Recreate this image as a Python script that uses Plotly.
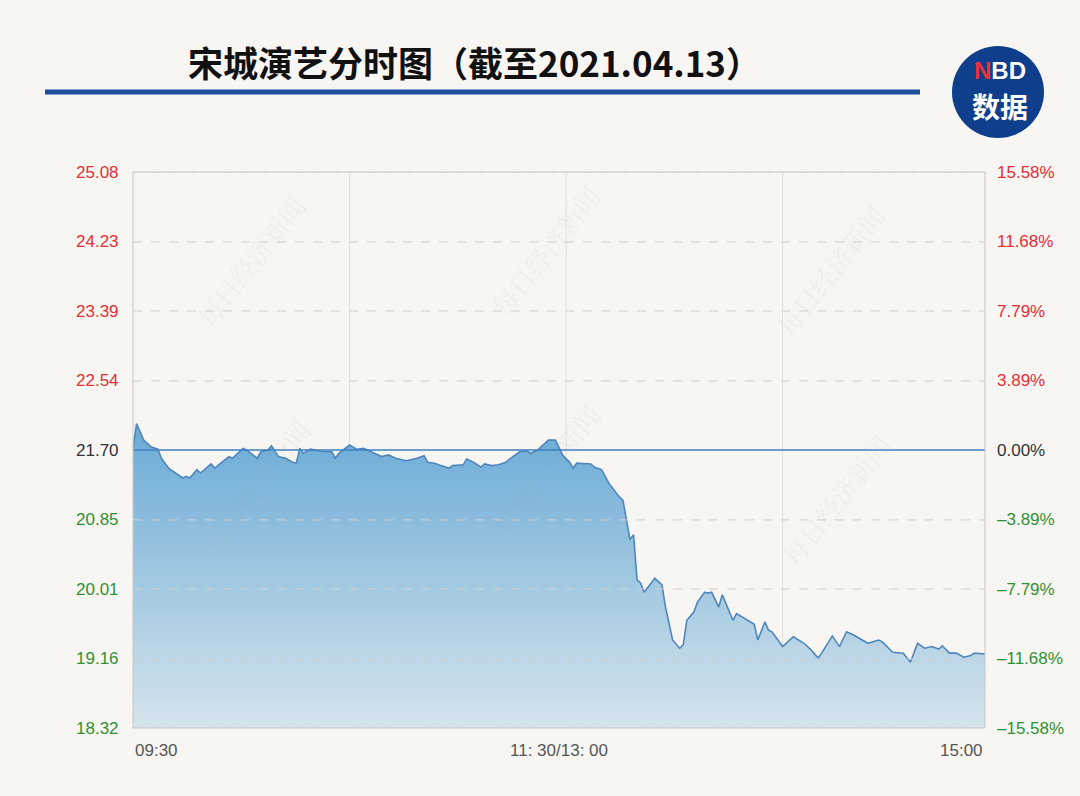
import plotly.graph_objects as go

# ---------------- data ----------------
minutes = [0, 1, 3, 5, 7, 8, 10, 14, 15, 16, 18, 19, 22, 23, 27, 28, 31, 32, 35, 36,
           38, 39, 41, 43, 45, 46, 47, 48, 50, 52, 54, 56, 57, 58, 61, 63, 65, 66, 68, 70,
           72, 74, 77, 80, 82, 83, 85, 86, 89, 90, 93, 94, 96, 98, 99, 101, 103, 105, 107, 109,
           111, 112, 114, 117, 119, 121, 123, 124, 125, 129, 130, 132, 134, 137, 138, 139, 140, 141, 142, 143,
           144, 147, 149, 150, 152, 154, 155, 156, 158, 159, 161, 162, 163, 165, 166, 169, 170, 175, 176, 178,
           179, 180, 183, 186, 189, 191, 193, 194, 197, 199, 201, 203, 207, 210, 211, 214, 217, 219, 221, 223,
           225, 227, 228, 230, 232, 234, 236, 237, 239, 240]
prices = [21.71, 22.02, 21.82, 21.74, 21.71, 21.60, 21.48, 21.36, 21.38, 21.36, 21.46, 21.42, 21.53, 21.48, 21.62, 21.60, 21.72, 21.70, 21.60, 21.68,
          21.70, 21.75, 21.62, 21.60, 21.55, 21.54, 21.72, 21.66, 21.71, 21.69, 21.68, 21.68, 21.60, 21.66, 21.76, 21.71, 21.72, 21.70, 21.66, 21.62,
          21.64, 21.60, 21.57, 21.60, 21.63, 21.55, 21.54, 21.52, 21.48, 21.51, 21.52, 21.59, 21.55, 21.49, 21.53, 21.51, 21.52, 21.55, 21.62, 21.68,
          21.69, 21.66, 21.70, 21.82, 21.82, 21.64, 21.55, 21.48, 21.54, 21.53, 21.49, 21.46, 21.30, 21.13, 21.09, 20.85, 20.61, 20.67, 20.12, 20.08,
          19.97, 20.14, 20.06, 19.79, 19.39, 19.29, 19.33, 19.63, 19.73, 19.85, 19.97, 19.96, 19.97, 19.79, 19.94, 19.63, 19.71, 19.58, 19.39, 19.61,
          19.51, 19.49, 19.31, 19.43, 19.35, 19.27, 19.17, 19.23, 19.44, 19.31, 19.49, 19.45, 19.35, 19.39, 19.37, 19.24, 19.23, 19.12, 19.35, 19.29,
          19.31, 19.28, 19.32, 19.23, 19.23, 19.18, 19.20, 19.23, 19.22, 19.22]

prev_close = 21.70
price_ticks = [25.08, 24.23, 23.39, 22.54, 21.70, 20.85, 20.01, 19.16, 18.32]
pct_ticks = ["15.58%", "11.68%", "7.79%", "3.89%", "0.00%", "–3.89%", "–7.79%", "–11.68%", "–15.58%"]
time_ticks = [0, 120, 240]
time_labels = ["09:30", "11: 30/13: 00", "15:00"]

title = "宋城演艺分时图（截至2021.04.13）"

# ---------------- geometry helpers ----------------
W, H = 1080, 796
L, R, T, B = 133, 985, 172, 728
def px(x):  # pixel -> paper x
    return (x - L) / (R - L)
def py(y):  # pixel -> paper y
    return (B - y) / (B - T)

RED, GREEN, DARK = "#e62e36", "#2f9134", "#333333"
BG = "#f8f6f2"
FONT = "Liberation Sans, Arial, sans-serif"

fig = go.Figure()
fig.add_trace(go.Scatter(
    x=minutes, y=prices, mode="lines",
    line=dict(color="#4f86bd", width=1.6),
    fill="tozeroy",
    fillgradient=dict(type="vertical",
                      colorscale=[[0, "#d5e4ec"], [1, "#6aaad6"]],
                      start=18.32, stop=22.02),
    hoverinfo="skip", showlegend=False))

shapes = []
# horizontal dashed gridlines
for v in price_ticks:
    if v == prev_close:
        continue
    shapes.append(dict(type="line", xref="paper", yref="y", x0=0, x1=1, y0=v, y1=v,
                       line=dict(color="#cfcfcf", width=1, dash="dash"), layer="above"))
# vertical gridlines
for m in [61, 122, 183]:
    shapes.append(dict(type="line", xref="x", yref="paper", x0=m, x1=m, y0=0, y1=1,
                       line=dict(color="#e2e0dc", width=1), layer="below"))
# baseline (previous close)
shapes.append(dict(type="line", xref="paper", yref="y", x0=0, x1=1, y0=prev_close, y1=prev_close,
                   line=dict(color="#3f7fc3", width=1.3), layer="above"))
# plot frame
shapes.append(dict(type="rect", xref="paper", yref="paper", x0=0, x1=1, y0=0, y1=1,
                   line=dict(color="#c6c6c6", width=1), layer="above"))
# title underline bar
shapes.append(dict(type="rect", xref="paper", yref="paper",
                   x0=px(45), x1=px(920), y0=py(94.5), y1=py(89.5),
                   fillcolor="#1b4d9b", line=dict(width=0)))
# logo circle
shapes.append(dict(type="circle", xref="paper", yref="paper",
                   x0=px(952), x1=px(1044), y0=py(138), y1=py(46),
                   fillcolor="#0f3e8c", line=dict(width=0)))

ann = []
# watermarks
for (wx, wy) in [(185, 185), (545, 175), (895, 195), (190, 560), (545, 545), (900, 500)]:
    ann.append(dict(x=px(wx), y=py(wy), xref="paper", yref="paper", text="每日经济新闻",
                    showarrow=False, textangle=-52,
                    font=dict(family="Noto Serif CJK SC, Noto Sans CJK SC", size=26,
                              color="rgba(160,160,160,0.10)")))
# left price labels and right pct labels
for i, v in enumerate(price_ticks):
    c = RED if v > prev_close else (DARK if v == prev_close else GREEN)
    ann.append(dict(x=px(121), y=v, xref="paper", yref="y", text=f"{v:.2f}", showarrow=False,
                    xanchor="right", yanchor="middle", font=dict(family=FONT, size=17, color=c)))
    ann.append(dict(x=px(995), y=v, xref="paper", yref="y", text=pct_ticks[i], showarrow=False,
                    xanchor="left", yanchor="middle", font=dict(family=FONT, size=17, color=c)))
# time labels
anchors = ["left", "center", "right"]
for t, lab, a in zip(time_ticks, time_labels, anchors):
    ann.append(dict(x=t, y=py(750), xref="x", yref="paper", text=lab, showarrow=False,
                    xanchor=a, yanchor="middle", font=dict(family=FONT, size=17, color="#555555")))
# title
ann.append(dict(x=px(474), y=py(62), xref="paper", yref="paper", text=f"<b>{title}</b>",
                showarrow=False, xanchor="center", yanchor="middle",
                font=dict(family="Noto Sans CJK SC", size=35, color="#111111")))
# logo text
ann.append(dict(x=px(1000), y=py(70), xref="paper", yref="paper",
                text="<b><span style='color:#e8323a'>N</span>BD</b>",
                showarrow=False, xanchor="center", yanchor="middle",
                font=dict(family="Liberation Sans, Arial", size=24, color="white")))
ann.append(dict(x=px(1000), y=py(106), xref="paper", yref="paper", text="<b>数据</b>",
                showarrow=False, xanchor="center", yanchor="middle",
                font=dict(family="Noto Sans CJK SC", size=28, color="white")))

fig.update_layout(
    width=W, height=H, margin=dict(l=L, r=W - R, t=T, b=H - B),
    paper_bgcolor=BG, plot_bgcolor=BG,
    xaxis=dict(range=[0, 240], showgrid=False, zeroline=False, showticklabels=False, fixedrange=True),
    yaxis=dict(range=[18.32, 25.08], showgrid=False, zeroline=False, showticklabels=False, fixedrange=True),
    shapes=shapes, annotations=ann, showlegend=False,
)

fig.write_html("out.html", config={"displayModeBar": False},
               post_script="document.body.style.margin='0';document.body.style.overflow='hidden';")
